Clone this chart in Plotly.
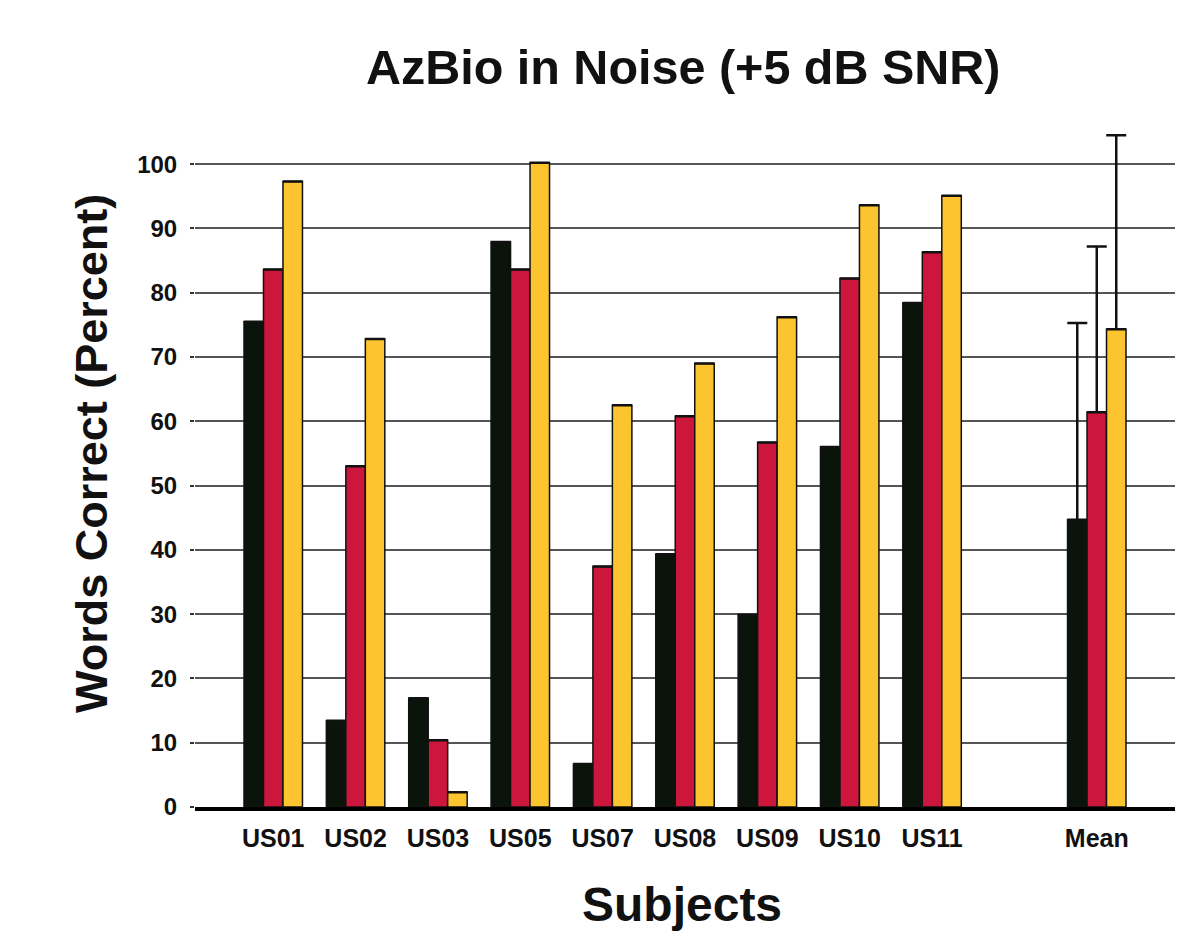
import plotly.graph_objects as go

subjects = ["US01", "US02", "US03", "US05", "US07", "US08", "US09", "US10", "US11", " ", "Mean"]
cond_a = [75.5, 13.4, 16.9, 87.9, 6.7, 39.3, 29.9, 56.0, 78.4, None, 44.7]
cond_b = [83.6, 53.0, 10.4, 83.6, 37.4, 60.8, 56.7, 82.2, 86.3, None, 61.4]
cond_c = [97.3, 72.8, 2.3, 100.2, 62.5, 69.0, 76.2, 93.6, 95.1, None, 74.3]
sd_a = [0, 0, 0, 0, 0, 0, 0, 0, 0, 0, 30.6]
sd_b = [0, 0, 0, 0, 0, 0, 0, 0, 0, 0, 25.8]
sd_c = [0, 0, 0, 0, 0, 0, 0, 0, 0, 0, 30.2]
yticks = [0, 10, 20, 30, 40, 50, 60, 70, 80, 90, 100]

colors = ["#0b140b", "#cd163b", "#fcc42e"]
font = "Liberation Sans, Arial, sans-serif"

fig = go.Figure()
for vals, sd, col in [(cond_a, sd_a, colors[0]), (cond_b, sd_b, colors[1]), (cond_c, sd_c, colors[2])]:
    fig.add_trace(go.Bar(
        x=subjects, y=vals, marker=dict(color=col, line=dict(color="#111111", width=1.5)),
        error_y=dict(type="data", array=sd, symmetric=False, arrayminus=[0]*len(sd),
                     color="#111111", thickness=2.5, width=10, visible=True),
        cliponaxis=False, showlegend=False,
    ))

fig.update_layout(
    width=1178, height=946,
    margin=dict(l=195, r=3, t=132, b=139),
    paper_bgcolor="white", plot_bgcolor="white",
    barmode="group", bargap=0.29, bargroupgap=0,
    font=dict(family=font, color="#111111"),
    title=dict(text="<b>AzBio in Noise (+5 dB SNR)</b>", x=0.58, xanchor="center",
               y=1 - 67/946, yanchor="middle", font=dict(size=48.5, color="#111111")),
    xaxis=dict(type="category", categoryorder="array", categoryarray=subjects,
               range=[-0.95, 10.95], showline=True, linecolor="#000000", linewidth=3.5,
               ticks="", showgrid=False, zeroline=False, ticklabelstandoff=6,
               tickfont=dict(size=25, family=font, color="#111111", weight="bold")),
    yaxis=dict(range=[0, 105], tickvals=yticks, showgrid=True, gridcolor="#555555",
               gridwidth=1.5, zeroline=False, showline=False, ticks="outside",
               ticklen=4, tickcolor="#333333", tickwidth=1.5,
               tickfont=dict(size=24, family=font, color="#111111", weight="bold"),
               ticklabelstandoff=8),
    annotations=[
        dict(text="<b>Words Correct (Percent)</b>", textangle=-90, xref="paper", yref="paper",
             x=(91 - 195) / 980, y=1 - (454 - 132) / 675, xanchor="center", yanchor="middle",
             showarrow=False, font=dict(size=45, family=font, color="#111111")),
        dict(text="<b>Subjects</b>", xref="paper", yref="paper",
             x=(682 - 195) / 980, y=1 - (905 - 132) / 675, xanchor="center", yanchor="middle",
             showarrow=False, font=dict(size=48, family=font, color="#111111")),
    ],
)

fig.write_html("out.html")
